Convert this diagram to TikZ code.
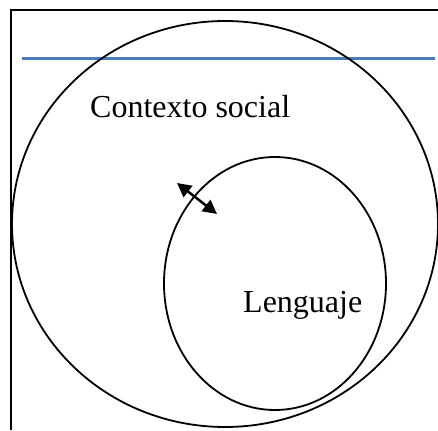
\documentclass[tikz,border=0pt]{standalone}
\usepackage{fontspec}
\setmainfont{Liberation Serif}
\usetikzlibrary{arrows.meta,shapes.geometric}
\definecolor{lineblue}{HTML}{4A7EBB}
\tikzset{
  frameline/.style={line width=2pt, black},
  blueline/.style={line width=3pt, lineblue},
  circ/.style={draw, ellipse, line width=1.8pt, inner sep=0pt},
  lbl/.style={font=\fontsize{32}{38}\selectfont, inner sep=0pt, anchor=base west},
  dbl/.style={line width=2.5pt, {Triangle[length=14pt,width=14pt]}-{Triangle[length=14pt,width=14pt]}}
}
\begin{document}
\begin{tikzpicture}[x=1pt,y=-1pt]
\useasboundingbox (0,0) rectangle (438,430);
\coordinate (ftl) at (11,10);
\coordinate (ftr) at (438,10);
\coordinate (fbl) at (11,430);
\draw[frameline] (ftr) -- (ftl) -- (fbl);
\coordinate (bl) at (22,59);
\coordinate (br) at (435,59);
\draw[blueline] (bl) -- (br);
\node[circ, minimum width=426pt, minimum height=406pt] (social) at (225,224) {};
\node[circ, minimum width=222pt, minimum height=253pt] (leng) at (275,283.5) {};
\node[lbl] (tsocial) at (90,118) {Contexto social};
\node[lbl] (tleng) at (243,312) {Lenguaje};
\coordinate (a1) at (177,183);
\coordinate (a2) at (217,214);
\draw[dbl] (a1) -- (a2);
\end{tikzpicture}
\end{document}
